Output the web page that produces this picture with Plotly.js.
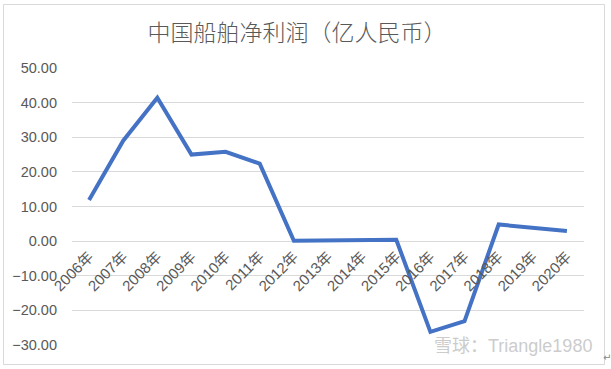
<!DOCTYPE html>
<html>
<head>
<meta charset="utf-8">
<script src="https://cdn.plot.ly/plotly-3.0.1.min.js"></script>
<style>
html,body{margin:0;padding:0;background:#fff;}
#chart{width:611px;height:369px;}
</style>
</head>
<body>
<div id="chart"></div>
<script>
var years = ["2006年","2007年","2008年","2009年","2010年","2011年","2012年","2013年","2014年","2015年","2016年","2017年","2018年","2019年","2020年"];
var netProfit = [11.9, 29.0, 41.4, 25.0, 25.8, 22.4, 0.1, 0.2, 0.5, 0.4, -26.2, -23.1, 4.8, 3.9, 2.9];
var yTicks = [-30, -20, -10, 0, 10, 20, 30, 40, 50];
var chartTitle = "中国船舶净利润（亿人民币）";
var watermark = "雪球：Triangle1980";

var gray = "#595959";
var fontY = {family: "Liberation Sans, Noto Sans CJK SC, sans-serif", size: 14.5, color: gray};
var fontX = {family: "Liberation Sans, Noto Sans CJK SC, sans-serif", size: 15, color: gray};

var trace = {
  x: years,
  y: netProfit,
  type: "scatter",
  mode: "lines",
  line: {color: "#4472C4", width: 4, shape: "linear"},
  hoverinfo: "x+y",
  showlegend: false
};

var yMin = -30, yMax = 50;
var zeroPos = (0 - yMin) / (yMax - yMin);

var layout = {
  width: 611,
  height: 369,
  margin: {l: 72, r: 27, t: 68, b: 24, pad: 0},
  paper_bgcolor: "#ffffff",
  plot_bgcolor: "#ffffff",
  title: {
    text: chartTitle,
    x: 297 / 611, xanchor: "center", xref: "container",
    y: 1 - 33/369, yanchor: "middle", yref: "container",
    font: {family: "Noto Sans CJK SC, sans-serif", size: 23, color: gray, weight: 300}
  },
  xaxis: {
    type: "category",
    range: [-0.5, years.length - 0.5],
    anchor: "free",
    position: zeroPos,
    showgrid: false,
    zeroline: false,
    showline: false,
    ticks: "",
    tickangle: -45,
    tickfont: fontX,
    ticklabelstandoff: 3,
    fixedrange: true
  },
  yaxis: {
    range: [yMin, yMax],
    tickvals: yTicks,
    tickformat: ".2f",
    showgrid: true,
    gridcolor: "#d9d9d9",
    gridwidth: 1,
    zeroline: false,
    showline: false,
    ticks: "",
    tickfont: fontY,
    ticklabelstandoff: 14,
    fixedrange: true
  },
  shapes: [{
    type: "rect", xref: "paper", yref: "paper",
    x0: (3.5 - 72) / 512, x1: (604.5 - 72) / 512,
    y0: (345 - 364.5) / 277, y1: (345 - 4.5) / 277,
    line: {color: "#d9d9d9", width: 1},
    fillcolor: "rgba(0,0,0,0)",
    layer: "below"
  }],
  annotations: [{
    text: watermark,
    xref: "paper", yref: "paper",
    x: (594 - 72) / 512, xanchor: "right",
    y: (345 - 346) / 277, yanchor: "middle",
    showarrow: false,
    font: {family: "Liberation Sans, Noto Sans CJK SC, sans-serif", size: 18, color: "rgba(190,190,190,0.8)"}
  }, {
    text: "↵",
    xref: "paper", yref: "paper",
    x: (607 - 72) / 512, xanchor: "center",
    y: (345 - 357) / 277, yanchor: "middle",
    showarrow: false,
    font: {family: "DejaVu Sans, sans-serif", size: 10, color: "#888"}
  }]
};

Plotly.newPlot("chart", [trace], layout, {displayModeBar: false, staticPlot: true});
</script>
</body>
</html>
